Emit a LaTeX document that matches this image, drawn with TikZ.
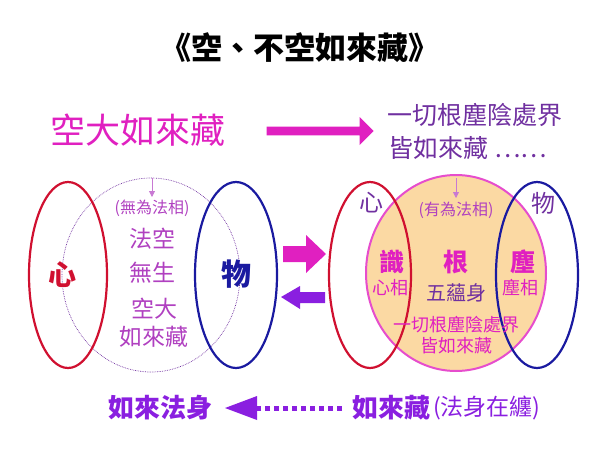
\documentclass[tikz,border=0pt]{standalone}
\usepackage{fontspec}
\setmainfont{Noto Sans CJK TC}
\usetikzlibrary{arrows.meta,shapes.arrows}
\definecolor{mag}{HTML}{E020C0}
\definecolor{pur}{HTML}{8A1FE0}
\definecolor{ptxt}{HTML}{B040C0}
\definecolor{vtxt}{HTML}{7030A0}
\definecolor{rd}{HTML}{D01030}
\definecolor{bl}{HTML}{1A1AA0}
\definecolor{orf}{HTML}{FBD9A3}
\tikzset{x=1pt,y=-1pt,
 t/.style={inner sep=0pt,font=\fontsize{23}{23}\selectfont},
 ts/.style={inner sep=0pt,font=\fontsize{16}{16}\selectfont},
 tm/.style={inner sep=0pt,font=\fontsize{18}{18}\selectfont},
 tb/.style={inner sep=0pt,font=\fontsize{26}{26}\selectfont\bfseries},
 ring/.style={line width=2.2pt},
 small/.style={-{Triangle[length=6pt,width=6pt]},color=ptxt!70,line width=0.8pt}}
\begin{document}
\begin{tikzpicture}
\useasboundingbox (0,0) rectangle (600,450);
\node[inner sep=0pt,font=\fontsize{31}{31}\selectfont\bfseries] (title) at (300,48) {《空、不空如來藏》};
\node[inner sep=0pt,text=mag,font=\fontsize{35}{35}\selectfont] (kd) at (138,130) {空大如來藏};
\node[inner sep=0pt,text=vtxt,font=\fontsize{25}{25}\selectfont] (r1) at (475,115) {一切根塵陰處界};
\node[inner sep=0pt,text=vtxt,font=\fontsize{25}{25}\selectfont] (r2) at (468,148) {皆如來藏 ……};
\node[single arrow,fill=mag,draw=none,minimum height=107pt,minimum width=28pt,single arrow head extend=7pt,inner sep=3pt] (bigarr) at (318,131) {};
% left
\draw[densely dotted,line width=0.7pt,color=vtxt] (151,275) ellipse (89 and 97);
\draw[ring,rd] (68,275) ellipse (39 and 93);
\draw[ring,bl] (236,275) ellipse (41 and 93);
\coordinate (la) at (152,178); \coordinate (lb) at (152,197);
\draw[small] (la) -- (lb);
\node[ts,text=ptxt] (w1) at (152,208) {(無為法相)};
\node[t,text=ptxt] (w2) at (152,239) {法空};
\node[t,text=ptxt] (w3) at (152,273) {無生};
\node[t,text=ptxt] (w4) at (154,309) {空大};
\node[t,text=ptxt] (w5) at (154,337) {如來藏};
\node[inner sep=0pt,text=rd,font=\fontsize{28}{28}\selectfont\bfseries] (lx) at (62,275) {心};
\node[inner sep=0pt,text=bl,font=\fontsize{30}{30}\selectfont\bfseries] (lw) at (236,274) {物};
% middle arrows
\fill[mag] (283,246) -- (306,246) -- (306,235) -- (326,254) -- (306,273) -- (306,262) -- (283,262) -- cycle;
\fill[pur] (325,292) -- (300,292) -- (300,286) -- (281,297) -- (300,309) -- (300,303) -- (325,303) -- cycle;
% right
\draw[line width=2pt,color=mag!80,fill=orf] (456,273) ellipse (90 and 98);
\draw[ring,rd] (370,275) ellipse (41 and 93);
\draw[ring,bl] (537,275) ellipse (41 and 93);
\coordinate (ra) at (456,178); \coordinate (rb) at (456,198);
\draw[small] (ra) -- (rb);
\node[inner sep=0pt,font=\fontsize{24}{24}\selectfont,text=vtxt] (rx) at (371,203) {心};
\node[ts,text=ptxt] (ry) at (456,210) {(有為法相)};
\node[inner sep=0pt,font=\fontsize{24}{24}\selectfont,text=vtxt] (rw) at (543,203) {物};
\node[inner sep=0pt,text=mag,font=\fontsize{25}{25}\selectfont\bfseries] (s1) at (392,262) {識};
\node[tm,text=mag] (s2) at (390,288) {心相};
\node[inner sep=0pt,text=mag,font=\fontsize{25}{25}\selectfont\bfseries] (g1) at (456,262) {根};
\node[inner sep=0pt,text=vtxt,font=\fontsize{20}{20}\selectfont] (g2) at (456,293) {五蘊身};
\node[inner sep=0pt,text=mag,font=\fontsize{25}{25}\selectfont\bfseries] (c1) at (523,262) {塵};
\node[tm,text=mag] (c2) at (520,288) {塵相};
\node[tm,text=mag] (y1) at (456,325) {一切根塵陰處界};
\node[tm,text=mag] (y2) at (456,346) {皆如來藏};
% bottom
\node[tb,text=pur] (fs) at (160,408) {如來法身};
\node[tb,text=pur,anchor=west] (rl) at (352,408) {如來藏};
\node[inner sep=0pt,text=pur,font=\fontsize{23}{23}\selectfont,anchor=west] (fz) at (433,408) {(法身在纏)};
\draw[pur,line width=5pt,dash pattern=on 5pt off 4pt] (rl.west)++(-10,0) -- (256,408);
\fill[pur] (225,408) -- (257,396) -- (257,420) -- cycle;
\end{tikzpicture}
\end{document}
